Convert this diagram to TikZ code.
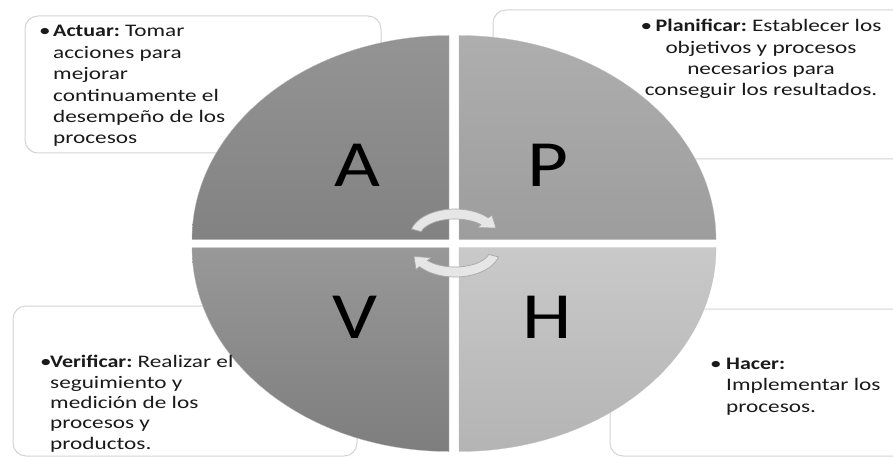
\documentclass[tikz,border=0pt]{standalone}
\usepackage{fontspec}
\setmainfont{Carlito}
\newfontfamily\txtfont[FakeStretch=1.32, BoldFeatures={FakeStretch=1.25}]{Carlito}
\newfontfamily\bigfont[FakeStretch=1.2]{Carlito}
\usetikzlibrary{calc}
\frenchspacing
\definecolor{boxgray}{HTML}{D4D4D4}
\definecolor{qAt}{HTML}{949494}
\definecolor{qAb}{HTML}{828282}
\definecolor{qPt}{HTML}{AEAEAE}
\definecolor{qPb}{HTML}{9D9D9D}
\definecolor{qVt}{HTML}{989898}
\definecolor{qVb}{HTML}{7E7E7E}
\definecolor{qHt}{HTML}{C9C9C9}
\definecolor{qHb}{HTML}{B4B4B4}
\definecolor{arrowfill}{HTML}{E6E6E6}
\definecolor{arrowedge}{HTML}{A8A8A8}
\definecolor{txtc}{HTML}{1A1A1A}
\newcommand{\bul}[1]{\llap{\makebox[#1][l]{•}}}
\tikzset{
  box/.style={draw=boxgray, line width=1pt, rounded corners=13pt, fill=white},
  txt/.style={font=\txtfont\fontsize{17.6}{21.4}\selectfont, text=txtc, inner sep=0pt, anchor=base west, align=left},
  letter/.style={font=\bigfont\fontsize{66}{66}\selectfont, text=black, inner sep=0pt},
  arr/.style={fill=arrowfill, draw=arrowedge, line width=0.7pt, line join=round},
  quad/.style={draw=black!25, line width=0.3pt}
}
\begin{document}
\begin{tikzpicture}[x=1pt,y=-1pt]
\useasboundingbox (0,0) rectangle (893,457);
\clip (0,0) rectangle (893,457);
\fill[white] (0,0) rectangle (893,457);
% text boxes
\draw[box] (25,16) rectangle (381,153);
\draw[box] (493,10) rectangle (910,159);
\draw[box] (13,306) rectangle (357,456);
\draw[box] (610,309) rectangle (910,456);
% quadrants
\shade[quad, top color=qAt, bottom color=qAb] (449,239.5) -- (192,239.5)
  arc[start angle=180, end angle=270, x radius=257, y radius=204] -- cycle;
\shade[quad, top color=qPt, bottom color=qPb] (459,239.5) -- (459,35.5)
  arc[start angle=270, end angle=360, x radius=257, y radius=204] -- cycle;
\shade[quad, top color=qHt, bottom color=qHb] (459,247.5) -- (716,247.5)
  arc[start angle=0, end angle=90, x radius=257, y radius=204] -- cycle;
\shade[quad, top color=qVt, bottom color=qVb] (449,247.5) -- (449,451.5)
  arc[start angle=90, end angle=180, x radius=257, y radius=204] -- cycle;
% texts (anchored at the baseline of their last line)
\node[txt] (tA) at (53,144)
  {\bul{14pt}\textbf{Actuar:} Tomar\\acciones para\\mejorar\\continuamente el\\desempeño de los\\procesos};
\node[txt, anchor=base, align=center] (tP) at (761,96)
  {\makebox[15pt][l]{•}\textbf{Planificar:} Establecer los\\objetivos y procesos\\necesarios para\\conseguir los resultados.};
\node[txt, font=\txtfont\fontsize{17.6}{20.3}\selectfont] (tV) at (50,449)
  {\bul{10pt}\textbf{Verificar:} Realizar el\\seguimiento y\\medición de los\\procesos y\\productos.};
\node[txt] (tH) at (726,412)
  {\bul{16pt}\textbf{Hacer:}\\Implementar los\\procesos.};
% letters
\node[letter] (lA) at (357,165) {A};
\node[letter] (lP) at (548,165) {P};
\node[letter] (lV) at (355,317) {V};
\node[letter] (lH) at (547,317) {H};
% cycle arrows
\coordinate (ct) at (455,236);
\coordinate (cb) at (455,250);
\filldraw[arr] ($(ct)+(195:45 and 27)$)
  arc[start angle=195, end angle=318, x radius=45, y radius=27]
  -- ($(ct)+(318:49.5 and 31.5)$) -- ($(ct)+(41,-8)$) -- ($(ct)+(318:30.5 and 12.5)$)
  -- ($(ct)+(318:35 and 17)$)
  arc[start angle=318, end angle=195, x radius=35, y radius=17] -- cycle;
\filldraw[arr] ($(cb)+(15:45 and 27)$)
  arc[start angle=15, end angle=142, x radius=45, y radius=27]
  -- ($(cb)+(142:49.5 and 31.5)$) -- ($(cb)+(-41,6.5)$) -- ($(cb)+(142:30.5 and 12.5)$)
  -- ($(cb)+(142:35 and 17)$)
  arc[start angle=142, end angle=15, x radius=35, y radius=17] -- cycle;
\end{tikzpicture}
\end{document}
